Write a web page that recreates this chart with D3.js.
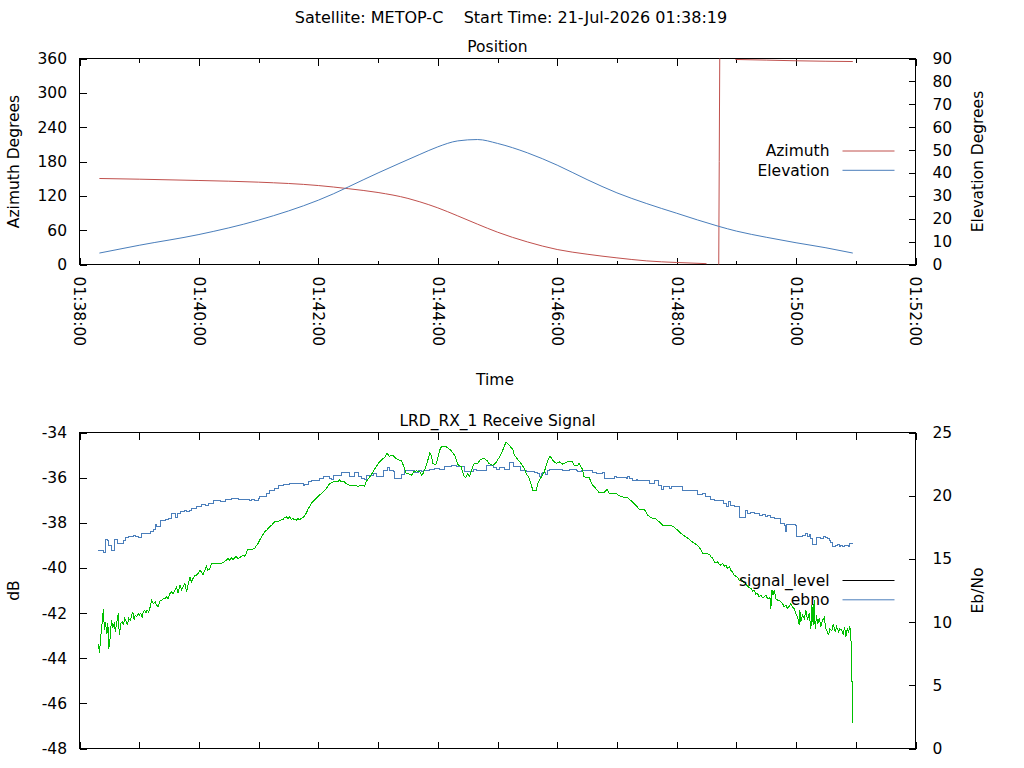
<!DOCTYPE html>
<html>
<head>
<meta charset="utf-8">
<script src="https://cdn.jsdelivr.net/npm/d3@7"></script>
<style>
  body { margin: 0; background: #fff; }
  text { font-family: 'DejaVu Sans', sans-serif; fill: #000; }
</style>
</head>
<body>
<div id="chart"></div>
<script>

// -- pass info
let satellite = 'METOP-C'
let startLabel = '21-Jul-2026 01:38:19'
let timeDomain = ['01:38:00', '01:52:00']

// -- position samples: [seconds after 01:38:00, degrees], null = no sample
let azimuth = [[20,150.3],[60,149.1],[120,146.8],[180,143.9],[240,138.0],[270,132.5],[300,125.8],[330,115.5],
  [342,109.5],[360,99.0],[380,85.0],[400,70.4],[420,56.5],[450,39.5],[480,26.2],[510,18.0],[540,11.6],
  [570,6.3],[600,3.5],[630,1.5],[636,null],[642.3,0],[642.8,180],[643.3,360],[651,null],
  [659,358.3],[690,357.2],[720,356.0],[750,355.2],[777,354.7]]
let elevation = [[20,5.0],[60,8.4],[120,13.1],[180,19.4],[240,28.1],[300,40.0],[342,48.1],[360,51.4],
  [380,54.0],[400,54.6],[420,52.9],[450,48.8],[480,43.4],[510,37.1],[540,31.3],[570,26.6],[600,22.4],
  [642,16.7],[660,14.6],[690,11.9],[720,9.5],[750,7.3],[777,5.0]]

// -- receive signal samples: [seconds after 01:38:00, value]
let signalLevel = [[19,-43.35],[20,-43.76],[21.5,-42.98],[23,-42.32],[24,-41.80],[25,-42.76],[26,-42.39],[27.5,-42.94],
  [28.5,-42.46],[29.5,-43.57],[31,-43.05],[32,-42.32],[33.5,-42.61],[35,-42.46],[36,-42.83],[37.5,-42.39],
  [39,-42.02],[40,-42.98],[41.5,-42.46],[43,-42.39],[44,-42.54],[45.5,-42.24],[47,-42.39],[48,-42.54],
  [49.5,-42.24],[51,-42.32],[52,-42.17],[53.5,-41.95],[55,-42.32],[56,-42.09],[57.5,-42.17],[59,-42.02],
  [60,-42.09],[61.5,-42.02],[63,-42.17],[64,-41.95],[65.5,-41.87],[67,-41.99],[68,-41.87],[69.5,-41.95],
  [71,-41.73],[72.5,-41.43],[74,-41.58],[76,-41.50],[77.5,-41.65],[79,-41.73],[81,-41.43],[82.5,-41.43],
  [84,-41.36],[86,-41.36],[87.5,-41.28],[89,-41.36],[91,-41.13],[92.5,-41.06],[94,-41.13],[96,-40.99],
  [97.5,-40.84],[99,-41.13],[101,-40.77],[102.5,-40.96],[104,-40.84],[106,-40.69],[107.5,-41.06],[109,-40.77],
  [111,-40.40],[112.5,-40.62],[114,-40.47],[116,-40.32],[117.5,-40.32],[119,-40.25],[121,-40.10],[122.5,-40.17],
  [124,-40.32],[126,-40.10],[127.5,-39.92],[129,-40.10],[131,-40.03],[132.5,-39.81],[137.5,-39.81],[144,-39.78],
  [147.5,-39.66],[149,-39.58],[151,-39.66],[152.5,-39.54],[154,-39.63],[157.5,-39.48],[159,-39.58],[161,-39.54],
  [164,-39.44],[166,-39.48],[167.5,-39.36],[169,-39.19],[173,-39.19],[176,-39.14],[178,-38.99],[179.5,-38.92],
  [181,-38.77],[183,-38.62],[184.5,-38.51],[186,-38.40],[188,-38.33],[191,-38.18],[193,-38.11],[196,-37.96],
  [199.5,-37.96],[201,-37.89],[204.5,-37.86],[206,-37.77],[208,-37.74],[209.5,-37.81],[211,-37.74],[213,-37.86],
  [214.5,-37.81],[216,-37.86],[218,-37.89],[219.5,-37.81],[221,-37.86],[224.5,-37.77],[226,-37.71],[228,-37.56],
  [229.5,-37.41],[231,-37.30],[233,-37.12],[236.5,-36.97],[240,-36.82],[243,-36.70],[245,-36.63],[248,-36.48],
  [251.5,-36.26],[254.5,-36.19],[259.5,-36.19],[261,-36.08],[263,-36.19],[266,-36.19],[268,-36.26],[271,-36.34],
  [276,-36.34],[280,-36.38],[285,-36.34],[286.5,-36.38],[288,-36.19],[291.5,-35.97],[295,-35.74],[298,-35.52],
  [301.5,-35.30],[303,-35.23],[306.5,-35.11],[309,-34.90],[311,-35.05],[315,-35.01],[318,-35.15],[322,-35.23],
  [323.5,-35.26],[326,-35.52],[328,-35.79],[330,-35.82],[334,-35.89],[335.5,-35.74],[339,-35.70],[342,-35.74],
  [344,-35.89],[345.5,-35.79],[348,-35.52],[350.5,-35.15],[352,-34.90],[353.5,-35.01],[355,-35.37],[358,-35.42],
  [359.5,-35.23],[362,-34.78],[363.5,-34.64],[367,-34.61],[370,-34.67],[373.5,-34.81],[377,-35.01],[378.5,-35.20],
  [380,-35.42],[383.5,-35.52],[385,-35.74],[386.5,-35.94],[388,-36.00],[390,-35.82],[391.5,-35.94],[393,-35.82],
  [395,-35.52],[396.5,-35.37],[400,-35.37],[403,-35.20],[406.5,-35.15],[410,-35.26],[411.5,-35.37],[415,-35.45],
  [418,-35.37],[422,-35.08],[425,-34.81],[428.5,-34.43],[432,-34.58],[435.5,-34.75],[437,-35.01],[443.5,-35.37],
  [447,-35.60],[449,-35.82],[452,-36.04],[455.5,-36.56],[459,-36.56],[460.5,-36.26],[464,-35.97],[467,-35.75],
  [469,-35.45],[470.5,-35.23],[473,-35.05],[475.5,-35.23],[479,-35.37],[482,-35.30],[485.5,-35.40],[490.5,-35.30],
  [495.5,-35.30],[497,-35.45],[500.5,-35.45],[502,-35.37],[505.5,-35.64],[507,-35.97],[512,-35.99],[515.5,-36.33],
  [520.5,-36.56],[522,-36.67],[527,-36.67],[530,-36.53],[532.5,-36.70],[539,-36.70],[544,-36.85],[550.5,-36.88],
  [555.5,-37.07],[560.5,-37.30],[562.5,-37.41],[567.5,-37.41],[571,-37.66],[574,-37.77],[579,-37.83],[582.5,-37.96],
  [586,-38.11],[591,-38.11],[596,-38.15],[601,-38.33],[604.5,-38.48],[609.5,-38.63],[616,-38.85],[621,-39.00],
  [624.4,-39.19],[626.1,-39.36],[632.8,-39.39],[634.5,-39.51],[636.1,-39.54],[637.8,-39.73],[639.5,-39.78],[641.1,-39.73],
  [642.8,-39.84],[644.5,-39.88],[646.2,-39.81],[647.8,-39.92],[649.5,-39.88],[651.2,-40.03],[652.9,-39.95],[654.5,-40.10],
  [656.2,-40.18],[657.9,-40.32],[659.5,-40.37],[661.2,-40.43],[662.9,-40.54],[664.6,-40.52],[666.2,-40.54],[667.9,-40.66],
  [669.6,-40.69],[671.2,-40.81],[672.9,-40.87],[674.6,-40.91],[676.3,-41.02],[677.9,-40.99],[679.6,-41.16],[681.3,-41.14],
  [682.9,-41.28],[684.6,-41.21],[686.3,-41.31],[688,-41.28],[689.6,-41.21],[691.3,-41.36],[693,-41.36],[693.7,-41.28],
  [694.7,-41.80],[695.7,-40.96],[697,-41.21],[698,-40.99],[699.7,-41.36],[701.4,-41.43],[703.1,-41.43],[704.7,-41.50],
  [706.4,-41.58],[708.1,-41.73],[709.8,-41.65],[711.4,-41.80],[713.1,-41.69],[714.8,-41.58],[716.5,-41.73],[718.1,-41.80],
  [719.8,-42.02],[721.5,-42.17],[723.2,-42.54],[723.8,-41.87],[724.8,-42.39],[726.5,-42.10],[728.2,-42.24],[729.9,-41.87],
  [731.5,-42.32],[733.2,-42.02],[734.9,-42.69],[735.9,-41.65],[737.2,-42.54],[738.2,-41.40],[739.2,-42.69],[740.6,-42.10],
  [741.6,-42.49],[743.3,-42.24],[744.9,-42.61],[746.6,-42.32],[748.3,-42.20],[750,-42.69],[751.6,-42.83],[752.6,-42.98],
  [754,-42.69],[756,-42.79],[757.3,-42.49],[759.3,-42.83],[760.7,-42.61],[762.7,-42.83],[764,-42.69],[766,-42.76],
  [767.4,-42.98],[768.7,-42.61],[770,-43.05],[771.4,-42.69],[772.7,-42.83],[774.1,-42.58],[775.1,-43.20],[775.7,-43.50],
  [776.2,-45.05],[776.5,-45.05],[776.7,-46.89]]

let ebno = [[19,15.64],[23.4,15.64],[24.1,15.48],[25.1,15.48],[25.8,16.53],[28.1,16.48],[29.1,16.08],[31.5,16.08],
  [32.5,15.64],[34.1,15.64],[35.2,16.53],[37.5,16.53],[38.5,16.22],[42.5,16.22],[44.2,16.43],[46.5,16.69],
  [49.2,16.74],[54.2,16.88],[55.9,16.80],[59.2,16.69],[62.6,17.01],[69.2,17.01],[70.9,17.14],[74.3,17.32],
  [76,17.74],[77.6,17.59],[79.3,17.54],[81.6,18.06],[86,18.11],[89.3,18.19],[92,18.59],[94.3,18.59],
  [96,18.27],[98.4,18.59],[101,18.72],[105.4,18.86],[107.7,18.72],[111,18.80],[112.7,18.98],[116.1,18.98],
  [117.7,19.17],[121.1,19.17],[122.8,19.33],[127.1,19.25],[129.5,19.38],[134.5,19.59],[139.5,19.59],[141.2,19.51],
  [146.2,19.70],[149.5,19.70],[152.9,19.78],[157.9,19.78],[159.6,19.72],[164.6,19.72],[169.6,19.70],[171.3,19.62],
  [172.9,19.72],[176.3,19.64],[179.6,19.78],[181.3,19.91],[184.6,19.91],[188,20.17],[191.3,20.44],[196.3,20.57],
  [199.7,20.83],[204.7,20.91],[211.4,20.96],[221.4,20.96],[224.8,20.78],[226.4,20.91],[229.8,21.09],[231.5,21.15],
  [233.1,21.22],[241.5,21.36],[244.8,21.49],[251.5,21.36],[253.2,21.28],[254.8,21.62],[263.2,21.81],[269.9,21.81],
  [271.6,21.54],[274.9,21.54],[276.6,21.81],[279.9,21.54],[283.3,21.36],[286.6,21.28],[288.3,21.62],[293.3,21.62],
  [295,21.75],[298.4,21.54],[303.4,21.54],[305,21.96],[309.1,22.23],[311.7,21.96],[315.1,21.88],[316.7,21.36],
  [321.1,21.36],[323.4,21.70],[326.8,22.02],[331.8,21.96],[336.8,21.81],[340.2,21.96],[343.5,21.88],[345.2,21.96],
  [351.9,22.07],[356.9,22.15],[361.9,22.07],[367,22.33],[373.7,22.41],[378.7,22.33],[385.4,22.28],[387,21.89],
  [390.4,21.89],[395.4,22.07],[398.8,22.02],[408.8,22.36],[415.5,22.23],[418.9,22.07],[422.2,22.23],[427.2,22.07],
  [432.2,22.60],[435.6,22.28],[441.5,22.28],[442.8,22.02],[447.2,22.02],[448.9,21.88],[457.2,21.81],[460.6,21.75],
  [462.2,21.54],[463.9,21.75],[465.6,21.81],[468.2,21.70],[470.6,21.96],[472.3,22.07],[482.3,22.07],[485.6,22.02],
  [492.3,22.07],[499,22.02],[500.7,21.88],[504,21.96],[505.7,22.02],[514.1,21.96],[515.7,21.81],[519.1,21.75],
  [524.1,21.75],[525.8,21.81],[527.4,21.36],[535.8,21.36],[537.5,21.49],[539.1,21.44],[549.2,21.36],[550.8,21.54],
  [552.5,21.36],[555.9,21.23],[559.2,21.28],[560.9,21.18],[565.9,21.23],[570.9,21.18],[572.6,20.96],[575.9,20.96],
  [577.6,21.18],[579.9,21.18],[581.9,20.83],[584.3,20.49],[586.6,20.70],[589.3,20.75],[592.6,20.57],[595.3,20.70],
  [604.3,20.70],[606,20.43],[612.7,20.38],[619.4,20.38],[621.1,20.12],[626.1,20.17],[629.4,19.91],[634.5,19.70],
  [637.8,19.64],[644.5,19.64],[646.8,19.38],[648.8,19.38],[650.2,19.12],[652.2,19.51],[654.5,19.25],[656.2,19.25],
  [657.9,19.12],[661.2,19.12],[662.9,18.27],[667.9,18.27],[669.5,18.85],[671.2,18.59],[674.6,18.64],[677.9,18.59],
  [681.2,18.59],[682.9,18.46],[686.3,18.54],[689,18.32],[691.3,18.46],[694.7,18.27],[698,18.19],[701.4,18.19],
  [704.7,17.80],[708.1,17.67],[709.1,17.14],[710.4,17.75],[714.8,17.75],[719.8,17.67],[720.4,16.74],[723.1,16.74],
  [726.5,16.87],[729.2,17.01],[731.5,16.79],[733.2,16.93],[734.9,16.61],[736.5,16.16],[739.2,16.16],[740.6,16.69],
  [744.9,16.61],[747.3,16.74],[749.3,16.69],[751.6,16.61],[753.3,16.48],[754.9,16.27],[756.6,16.01],[760,16.09],
  [761.6,16.16],[763.3,16.01],[765,16.09],[766.7,15.96],[768.4,16.09],[770.7,16.09],[772.7,15.96],[774.1,16.22],
  [776.7,16.22]]

let azTicks = [0, 60, 120, 180, 240, 300, 360]
let elTicks = [0, 10, 20, 30, 40, 50, 60, 70, 80, 90]
let dbTicks = [-48, -46, -44, -42, -40, -38, -36, -34]
let ebTicks = [0, 5, 10, 15, 20, 25]

let colors = { azimuth: '#c0504d', elevation: '#4a7ebb', signal: '#00c000', ebno: '#4a7ebb' }

let width = 1024
let height = 768
let left = 79.5, right = 915.5

let parseTime = d3.timeParse('%Y-%m-%d %H:%M:%S')
let t0 = parseTime('2026-07-21 ' + timeDomain[0])
let t1 = parseTime('2026-07-21 ' + timeDomain[1])
let at = (s) => new Date(t0.getTime() + s * 1000)
// plain hyphen minus like the original plot
let plain = (d) => String(d)

let svg = d3.select('#chart').append('svg')
    .attr('width', width)
    .attr('height', height)
svg.append('rect').attr('width', width).attr('height', height).attr('fill', '#fff')

let xScale = d3.scaleTime().domain([t0, t1]).range([left, right])

svg.append('text')
    .attr('x', 511).attr('y', 23)
    .attr('text-anchor', 'middle')
    .style('font-size', '16px')
    .style('white-space', 'pre')
    .text('Satellite: ' + satellite + '    Start Time: ' + startLabel)

// draws frame, y axes, x ticks for one panel
function panel(top, bottom, yL, yR, lTicks, rTicks, title, lLabel, rLabel, labelled) {
    yL.range([bottom, top])
    yR.range([bottom, top])

    svg.append('text').attr('x', 497.5).attr('y', top - 6.5)
        .attr('text-anchor', 'middle').style('font-size', '15.5px').text(title)

    svg.append('g').attr('transform', 'translate(' + left + ',0)')
        .call(d3.axisLeft(yL).tickValues(lTicks).tickSize(-7).tickPadding(12.5).tickFormat(plain))
    svg.append('g').attr('transform', 'translate(' + right + ',0)')
        .call(d3.axisRight(yR).tickValues(rTicks).tickSize(-7).tickPadding(17).tickFormat(plain))

    if (labelled) {
        svg.append('g').attr('transform', 'translate(0,' + bottom + ')')
            .call(d3.axisBottom(xScale).ticks(d3.timeMinute.every(1)).tickSize(-4).tickFormat(''))
        svg.append('g').attr('transform', 'translate(0,' + top + ')')
            .call(d3.axisTop(xScale).ticks(d3.timeMinute.every(1)).tickSize(-4).tickFormat(''))
        let major = svg.append('g').attr('transform', 'translate(0,' + bottom + ')')
            .call(d3.axisBottom(xScale).ticks(d3.timeMinute.every(2)).tickSize(-7)
                .tickFormat(d3.timeFormat('%H:%M:%S')))
        major.selectAll('text')
            .attr('transform', 'rotate(90)')
            .attr('x', 12).attr('y', 0).attr('dy', '0.36em')
            .style('text-anchor', 'start')
        svg.append('g').attr('transform', 'translate(0,' + top + ')')
            .call(d3.axisTop(xScale).ticks(d3.timeMinute.every(2)).tickSize(-7).tickFormat(''))
    } else {
        svg.append('g').attr('transform', 'translate(0,' + bottom + ')')
            .call(d3.axisBottom(xScale).ticks(d3.timeMinute.every(1)).tickSize(-7).tickFormat(''))
        svg.append('g').attr('transform', 'translate(0,' + top + ')')
            .call(d3.axisTop(xScale).ticks(d3.timeMinute.every(1)).tickSize(-7).tickFormat(''))
    }

    svg.selectAll('.domain').remove()
    svg.selectAll('.tick line').attr('stroke', '#000').attr('shape-rendering', 'crispEdges')
    svg.selectAll('.tick text').style('font-size', '15.5px').style('font-family', "'DejaVu Sans', sans-serif").attr('fill', '#000')

    svg.append('rect')
        .attr('x', left).attr('y', top)
        .attr('width', right - left).attr('height', bottom - top)
        .attr('fill', 'none').attr('stroke', '#000')
        .attr('shape-rendering', 'crispEdges')

    svg.append('text').attr('transform', 'translate(19,' + (top + bottom) / 2 + ') rotate(-90)')
        .attr('text-anchor', 'middle').style('font-size', '15.5px').text(lLabel)
    svg.append('text').attr('transform', 'translate(982.5,' + (top + bottom) / 2 + ') rotate(-90)')
        .attr('text-anchor', 'middle').style('font-size', '15.5px').text(rLabel)
}

// -- Position panel
let yAz = d3.scaleLinear().domain([0, 360])
let yEl = d3.scaleLinear().domain([0, 90])
panel(58.5, 264.5, yAz, yEl, azTicks, elTicks, 'Position', 'Azimuth Degrees', 'Elevation Degrees', true)

svg.append('text').attr('x', 495).attr('y', 385)
    .attr('text-anchor', 'middle').style('font-size', '15.5px').text('Time')

let azLine = d3.line()
    .defined(d => d[1] !== null)
    .x(d => xScale(at(d[0])))
    .y(d => yAz(d[1]))
    .curve(d3.curveMonotoneX)
let elLine = d3.line()
    .x(d => xScale(at(d[0])))
    .y(d => yEl(d[1]))
    .curve(d3.curveMonotoneX)

svg.append('path').datum(azimuth).attr('d', azLine)
    .attr('fill', 'none').attr('stroke', colors.azimuth).attr('stroke-width', 1)
svg.append('path').datum(elevation).attr('d', elLine)
    .attr('fill', 'none').attr('stroke', colors.elevation).attr('stroke-width', 1)

// -- Receive signal panel
let yDb = d3.scaleLinear().domain([-48, -34])
let yEb = d3.scaleLinear().domain([0, 25])
panel(432.5, 748.5, yDb, yEb, dbTicks, ebTicks, 'LRD_RX_1 Receive Signal', 'dB', 'Eb/No', false)

let sigLine = d3.line()
    .x(d => xScale(at(d[0])))
    .y(d => yDb(d[1]))
let ebLine = d3.line()
    .x(d => xScale(at(d[0])))
    .y(d => yEb(d[1]))
    .curve(d3.curveStepAfter)

svg.append('path').datum(ebno).attr('d', ebLine)
    .attr('fill', 'none').attr('stroke', colors.ebno).attr('stroke-width', 1)
    .attr('shape-rendering', 'crispEdges')
svg.append('path').datum(signalLevel).attr('d', sigLine)
    .attr('fill', 'none').attr('stroke', colors.signal).attr('stroke-width', 1)
    .attr('shape-rendering', 'crispEdges')

// -- legends
function legend(items, y0) {
    items.forEach((item, i) => {
        let y = y0 + i * 19.3
        svg.append('text').attr('x', 829.5).attr('y', y + 5.3)
            .attr('text-anchor', 'end').style('font-size', '15.5px').text(item[0])
        svg.append('line').attr('x1', 842.5).attr('x2', 894.5).attr('y1', y).attr('y2', y)
            .attr('stroke', item[1]).attr('stroke-width', 1)
    })
}
legend([['Azimuth', colors.azimuth], ['Elevation', colors.elevation]], 151)
legend([['signal_level', '#000'], ['ebno', colors.ebno]], 580.5)

</script>
</body>
</html>
